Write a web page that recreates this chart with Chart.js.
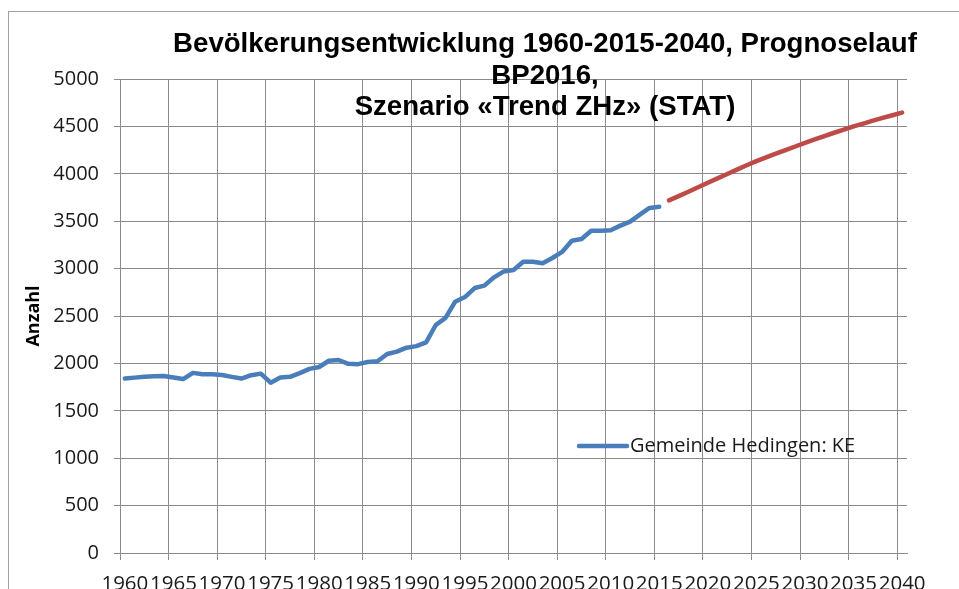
<!DOCTYPE html>
<html lang="de">
<head>
<meta charset="utf-8">
<title>Bevölkerungsentwicklung Hedingen</title>
<script src="https://cdn.jsdelivr.net/npm/chart.js@4/dist/chart.umd.min.js"></script>
<style>
  html, body { margin: 0; padding: 0; background: #fff; overflow: hidden; }
  canvas { display: block; }
</style>
</head>
<body>
<canvas id="lineChart" width="959" height="600"></canvas>
<script>
"use strict";

// Jahre auf der Kategorienachse
const years = Array.from({ length: 81 }, (_, i) => 1960 + i);

// Bestand 1960-2015
const histYears = years.slice(0, 56);
const histValues = [
  1840, 1850, 1858, 1865, 1868, 1852, 1835, 1900, 1885, 1886,
  1878, 1858, 1840, 1876, 1892, 1797, 1852, 1858, 1898, 1942,
  1962, 2028, 2036, 1995, 1992, 2014, 2022, 2099, 2124, 2166,
  2182, 2222, 2405, 2480, 2651, 2700, 2795, 2820, 2908, 2970,
  2985, 3073, 3073, 3056, 3112, 3176, 3294, 3312, 3400, 3400,
  3405, 3453, 3495, 3570, 3640, 3653
];

// Prognose 2016-2040
const progYears = years.slice(56);
const progValues = [
  3720, 3765, 3810, 3858, 3905, 3952, 3998, 4044, 4090, 4133,
  4173, 4212, 4250, 4288, 4325, 4362, 4398, 4433, 4467, 4500,
  4530, 4560, 4590, 4618, 4645
];

const yTicks = [0, 500, 1000, 1500, 2000, 2500, 3000, 3500, 4000, 4500, 5000];

const titleLines = [
  "Bevölkerungsentwicklung 1960-2015-2040, Prognoselauf",
  "BP2016,",
  "Szenario «Trend ZHz» (STAT)"
];
const legendLabel = "Gemeinde Hedingen: KE";

const gridColor = "#8a8a8a";
const textFont = "'Open Sans', sans-serif";

/**
 * Legt eine Reihe auf die ganze Jahresachse, fehlende Jahre bleiben leer.
 */
function toSeries(seriesYears, values) {
  return years.map(y => {
    const i = seriesYears.indexOf(y);
    return i === -1 ? null : values[i];
  });
}

// Rahmen, Titel und Legende wie im Original
const decorations = {
  id: "decorations",
  beforeDraw(chart) {
    const ctx = chart.ctx;
    ctx.save();
    ctx.strokeStyle = "#a0a0a0";
    ctx.lineWidth = 1;
    ctx.strokeRect(8.5, 11.5, 2000, 2000);
    ctx.restore();
  },
  afterDraw(chart) {
    const ctx = chart.ctx;
    ctx.save();
    ctx.fillStyle = "#000";
    ctx.font = "bold 27.6px 'Liberation Sans', Arial, sans-serif";
    ctx.textAlign = "center";
    ctx.textBaseline = "alphabetic";
    const baselines = [52, 83.5, 115];
    titleLines.forEach((line, i) => ctx.fillText(line, 545, baselines[i]));

    const ds = chart.data.datasets[0];
    ctx.strokeStyle = ds.borderColor;
    ctx.lineWidth = ds.borderWidth;
    ctx.lineCap = "round";
    ctx.beginPath();
    ctx.moveTo(579, 446);
    ctx.lineTo(627, 446);
    ctx.stroke();
    ctx.fillStyle = "#1a1a1a";
    ctx.font = "20px " + textFont;
    ctx.textAlign = "left";
    ctx.textBaseline = "middle";
    ctx.fillText(legendLabel, 630, 446);
    ctx.restore();
  }
};

function createLineChart() {
  const canvas = document.getElementById("lineChart");

  new Chart(canvas, {
    type: "line",
    data: {
      labels: years.map(String),
      datasets: [
        {
          label: legendLabel,
          data: toSeries(histYears, histValues),
          borderColor: "#4a7ebb",
          borderWidth: 4.5,
          borderCapStyle: "round",
          borderJoinStyle: "round",
          pointRadius: 0,
          spanGaps: false
        },
        {
          label: "Prognose",
          data: toSeries(progYears, progValues),
          borderColor: "#be4b48",
          borderWidth: 4.5,
          borderCapStyle: "round",
          borderJoinStyle: "round",
          pointRadius: 0,
          spanGaps: false
        }
      ]
    },
    options: {
      responsive: false,
      animation: false,
      devicePixelRatio: 1,
      layout: { padding: { left: 0, top: 79, right: 52, bottom: 0 } },
      plugins: {
        legend: { display: false },
        title: { display: false },
        tooltip: { enabled: false }
      },
      scales: {
        x: {
          type: "category",
          offset: true,
          grid: {
            offset: true,
            color: c => (c.index % 5 === 0 && c.index < years.length) ? gridColor : "rgba(0,0,0,0)",
            lineWidth: 1,
            tickLength: 7
          },
          border: { color: gridColor },
          ticks: {
            autoSkip: false,
            maxRotation: 0,
            minRotation: 0,
            padding: 12,
            color: "#1a1a1a",
            font: { family: textFont, size: 20.5 },
            callback: (val, idx) => idx % 5 === 0 ? String(years[idx]) : ""
          },
          afterFit: scale => { scale.height = 47; }
        },
        y: {
          min: 0,
          max: 5000,
          afterBuildTicks: scale => { scale.ticks = yTicks.map(v => ({ value: v })); },
          grid: { color: gridColor, lineWidth: 1, tickLength: 6 },
          border: { color: gridColor },
          ticks: {
            padding: 15,
            color: "#1a1a1a",
            font: { family: textFont, size: 20 },
            callback: v => String(v)
          },
          title: {
            display: true,
            text: "Anzahl",
            color: "#000",
            font: { family: textFont, size: 18, weight: "bold" },
            padding: { top: 23, bottom: 0 }
          },
          afterFit: scale => { scale.width = 120; }
        }
      }
    },
    plugins: [decorations]
  });
}

createLineChart();
</script>
</body>
</html>
